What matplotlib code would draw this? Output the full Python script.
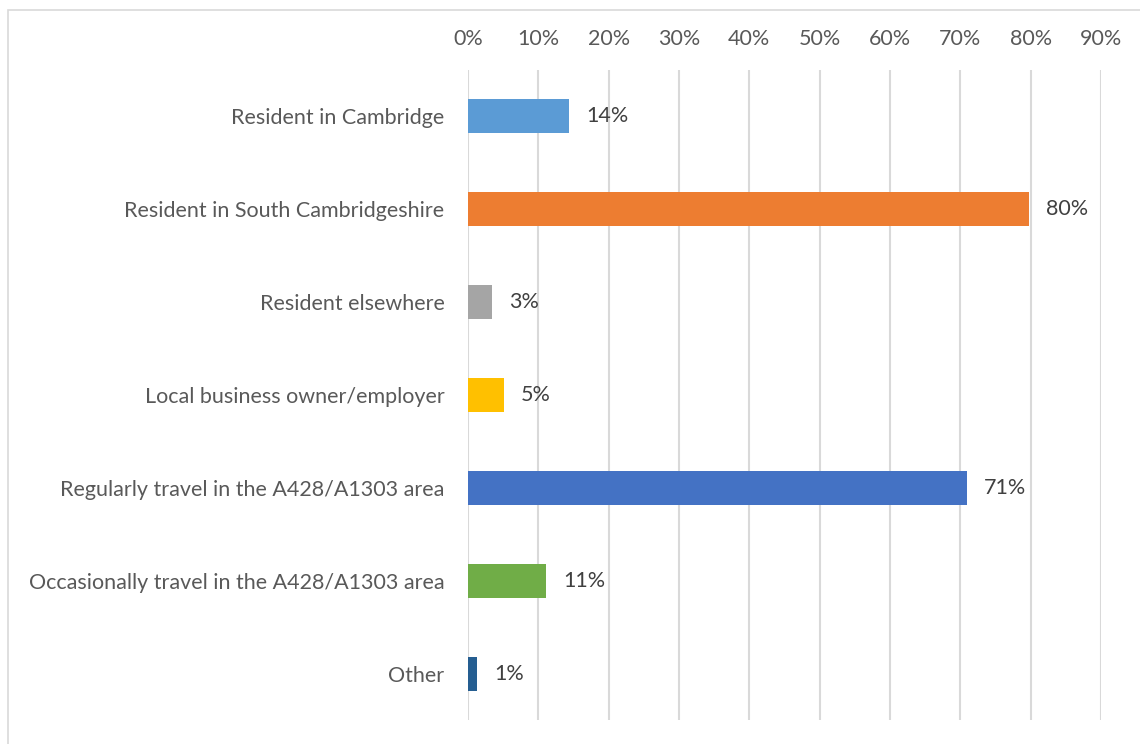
import matplotlib
matplotlib.use("Agg")
import matplotlib.pyplot as plt
from matplotlib.patches import Rectangle

categories = [
    "Resident in Cambridge",
    "Resident in South Cambridgeshire",
    "Resident elsewhere",
    "Local business owner/employer",
    "Regularly travel in the A428/A1303 area",
    "Occasionally travel in the A428/A1303 area",
    "Other",
]
values = [14.4, 79.8, 3.4, 5.1, 71.0, 11.1, 1.3]
labels = ["14%", "80%", "3%", "5%", "71%", "11%", "1%"]
colors = ["#5B9BD5", "#ED7D31", "#A5A5A5", "#FFC000", "#4472C4", "#70AD47", "#255E91"]
ticks = [0, 10, 20, 30, 40, 50, 60, 70, 80, 90]

plt.rcParams['font.family'] = ['Lato', 'DejaVu Sans']

fig = plt.figure(figsize=(11.4, 7.44), dpi=100)
fig.patches.append(Rectangle((8/1140, -0.1), 1.2, 1.1 - 10/744, transform=fig.transFigure,
                             fill=False, edgecolor="#D9D9D9", linewidth=1.2))
ax = fig.add_axes([468/1140, 24/744, (1101-468)/1140, (674-24)/744])

y = list(range(len(categories)))
ax.barh(y, values, height=0.365, color=colors, zorder=3)
for yi, v, lab in zip(y, values, labels):
    ax.text(v + 2.4, yi, lab, va="center", ha="left", fontsize=15.5, color="#404040")

ax.set_xlim(0, 90)
ax.set_ylim(len(categories) - 0.5, -0.5)
ax.set_yticks(y)
ax.set_yticklabels(categories, fontsize=15.5, color="#595959")
ax.set_xticks(ticks)
ax.set_xticklabels([f"{t}%" for t in ticks], fontsize=15.5, color="#595959")
ax.xaxis.tick_top()
ax.tick_params(axis="x", length=0, pad=15)
ax.tick_params(axis="y", length=0, pad=17)
ax.grid(axis="x", color="#D9D9D9", linewidth=1.5, zorder=0)
for s in ax.spines.values():
    s.set_visible(False)

fig.savefig("out.png", dpi=100)
